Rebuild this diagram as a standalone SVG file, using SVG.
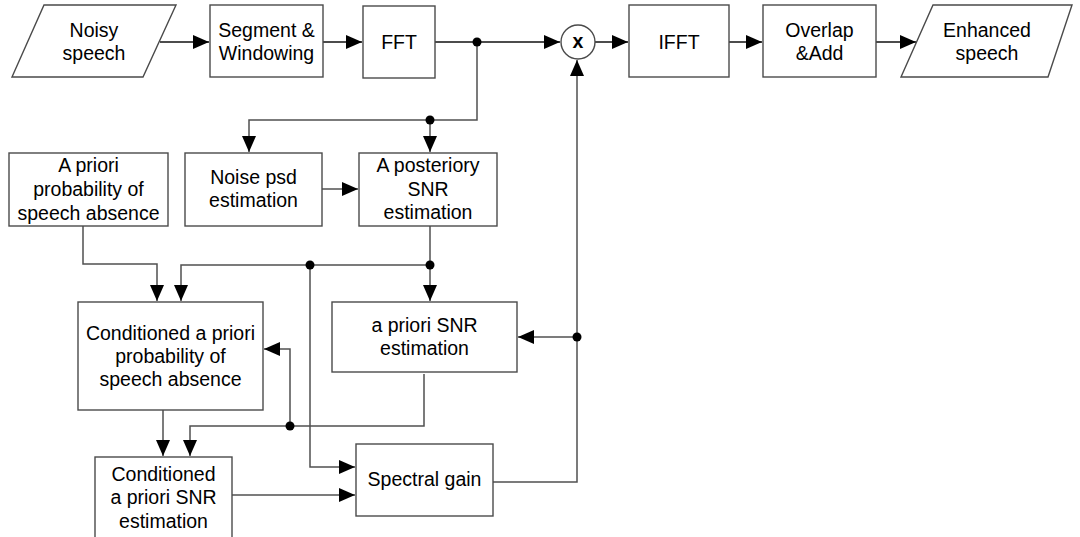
<svg xmlns="http://www.w3.org/2000/svg" width="1080" height="537" viewBox="0 0 1080 537">
<style>
.box{fill:#fff;stroke:#4a4a4a;stroke-width:1.4}
.t{font-family:"Liberation Sans",Arial,sans-serif;font-size:19.5px;fill:#000;text-anchor:middle}
.c{fill:none;stroke:#505050;stroke-width:1.5}
.k{fill:none;stroke:#111;stroke-width:1.4}
.dot{fill:#000}
</style>
<defs>
<marker id="ah" markerUnits="userSpaceOnUse" markerWidth="17" markerHeight="15" refX="16" refY="7" orient="auto">
<path d="M0,0 L16,7 L0,14 z" fill="#000"/>
</marker>
</defs>
<g id="connectors">
<path class="k" d="M160 42 H209" marker-end="url(#ah)"/>
<path class="k" d="M323 42 H362" marker-end="url(#ah)"/>
<path class="k" d="M435 42 H560" marker-end="url(#ah)"/>
<path class="k" d="M595 42 H628" marker-end="url(#ah)"/>
<path class="k" d="M729 42 H762" marker-end="url(#ah)"/>
<path class="k" d="M876 42 H916" marker-end="url(#ah)"/>
<path class="c" d="M477 42 V120 H249 V152" marker-end="url(#ah)"/>
<path class="c" d="M430 120 V152" marker-end="url(#ah)"/>
<path class="c" d="M322 189 H358" marker-end="url(#ah)"/>
<path class="c" d="M430 226 V301" marker-end="url(#ah)"/>
<path class="c" d="M430 265 H181 V301" marker-end="url(#ah)"/>
<path class="c" d="M83 226 V264 H157 V301" marker-end="url(#ah)"/>
<path class="c" d="M310 265 V467 H355" marker-end="url(#ah)"/>
<path class="c" d="M577 337 H518" marker-end="url(#ah)"/>
<path class="c" d="M493 482 H577 V60" marker-end="url(#ah)"/>
<path class="c" d="M424 374 V426 H190 V456" marker-end="url(#ah)"/>
<path class="c" d="M290 426 V349 H264" marker-end="url(#ah)"/>
<path class="c" d="M163 410 V456" marker-end="url(#ah)"/>
<path class="c" d="M232 495 H355" marker-end="url(#ah)"/>
<circle class="dot" cx="477" cy="42" r="4.5"/>
<circle class="dot" cx="430" cy="120" r="4.5"/>
<circle class="dot" cx="430" cy="265" r="4.5"/>
<circle class="dot" cx="310" cy="265" r="4.5"/>
<circle class="dot" cx="577" cy="337" r="4.5"/>
<circle class="dot" cx="290" cy="426" r="4.5"/>
</g>
<g id="noisy-speech">
<polygon class="box" points="44,5 176,5 143,77 12,77"/>
<text class="t" x="94" y="37">Noisy</text>
<text class="t" x="94" y="60">speech</text>
</g>
<g id="segment">
<rect class="box" x="210" y="5" width="113" height="72"/>
<text class="t" x="266.5" y="37">Segment &amp;</text>
<text class="t" x="266.5" y="60">Windowing</text>
</g>
<g id="fft">
<rect class="box" x="363" y="6" width="72" height="72"/>
<text class="t" x="399" y="49">FFT</text>
</g>
<g id="multiply">
<circle class="box" cx="578" cy="42" r="17"/>
<text class="t" x="578" y="48" style="font-weight:bold">x</text>
</g>
<g id="ifft">
<rect class="box" x="629" y="5" width="100" height="72"/>
<text class="t" x="679" y="49">IFFT</text>
</g>
<g id="overlap-add">
<rect class="box" x="763" y="5" width="113" height="72"/>
<text class="t" x="819.5" y="37">Overlap</text>
<text class="t" x="819.5" y="60">&amp;Add</text>
</g>
<g id="enhanced-speech">
<polygon class="box" points="933,5 1072,5 1048,77 901,77"/>
<text class="t" x="987" y="37">Enhanced</text>
<text class="t" x="987" y="60">speech</text>
</g>
<g id="a-priori-prob">
<rect class="box" x="9" y="153" width="159" height="73"/>
<text class="t" x="88.5" y="172">A priori</text>
<text class="t" x="88.5" y="196">probability of</text>
<text class="t" x="88.5" y="220">speech absence</text>
</g>
<g id="noise-psd">
<rect class="box" x="185" y="153" width="137" height="73"/>
<text class="t" x="253.5" y="184">Noise psd</text>
<text class="t" x="253.5" y="207">estimation</text>
</g>
<g id="a-posteriory">
<rect class="box" x="359" y="153" width="138" height="73"/>
<text class="t" x="428" y="172">A posteriory</text>
<text class="t" x="428" y="196">SNR</text>
<text class="t" x="428" y="219">estimation</text>
</g>
<g id="cond-prob">
<rect class="box" x="78" y="302" width="185" height="108"/>
<text class="t" x="170.5" y="340">Conditioned a priori</text>
<text class="t" x="170.5" y="363">probability of</text>
<text class="t" x="170.5" y="386">speech absence</text>
</g>
<g id="a-priori-snr">
<rect class="box" x="332" y="302" width="185" height="70"/>
<text class="t" x="424.5" y="332">a priori SNR</text>
<text class="t" x="424.5" y="355">estimation</text>
</g>
<g id="spectral-gain">
<rect class="box" x="356" y="444" width="137" height="72"/>
<text class="t" x="424.5" y="486">Spectral gain</text>
</g>
<g id="cond-snr">
<rect class="box" x="95" y="457" width="137" height="84"/>
<text class="t" x="163.5" y="481">Conditioned</text>
<text class="t" x="163.5" y="504">a priori SNR</text>
<text class="t" x="163.5" y="528">estimation</text>
</g>
</svg>
